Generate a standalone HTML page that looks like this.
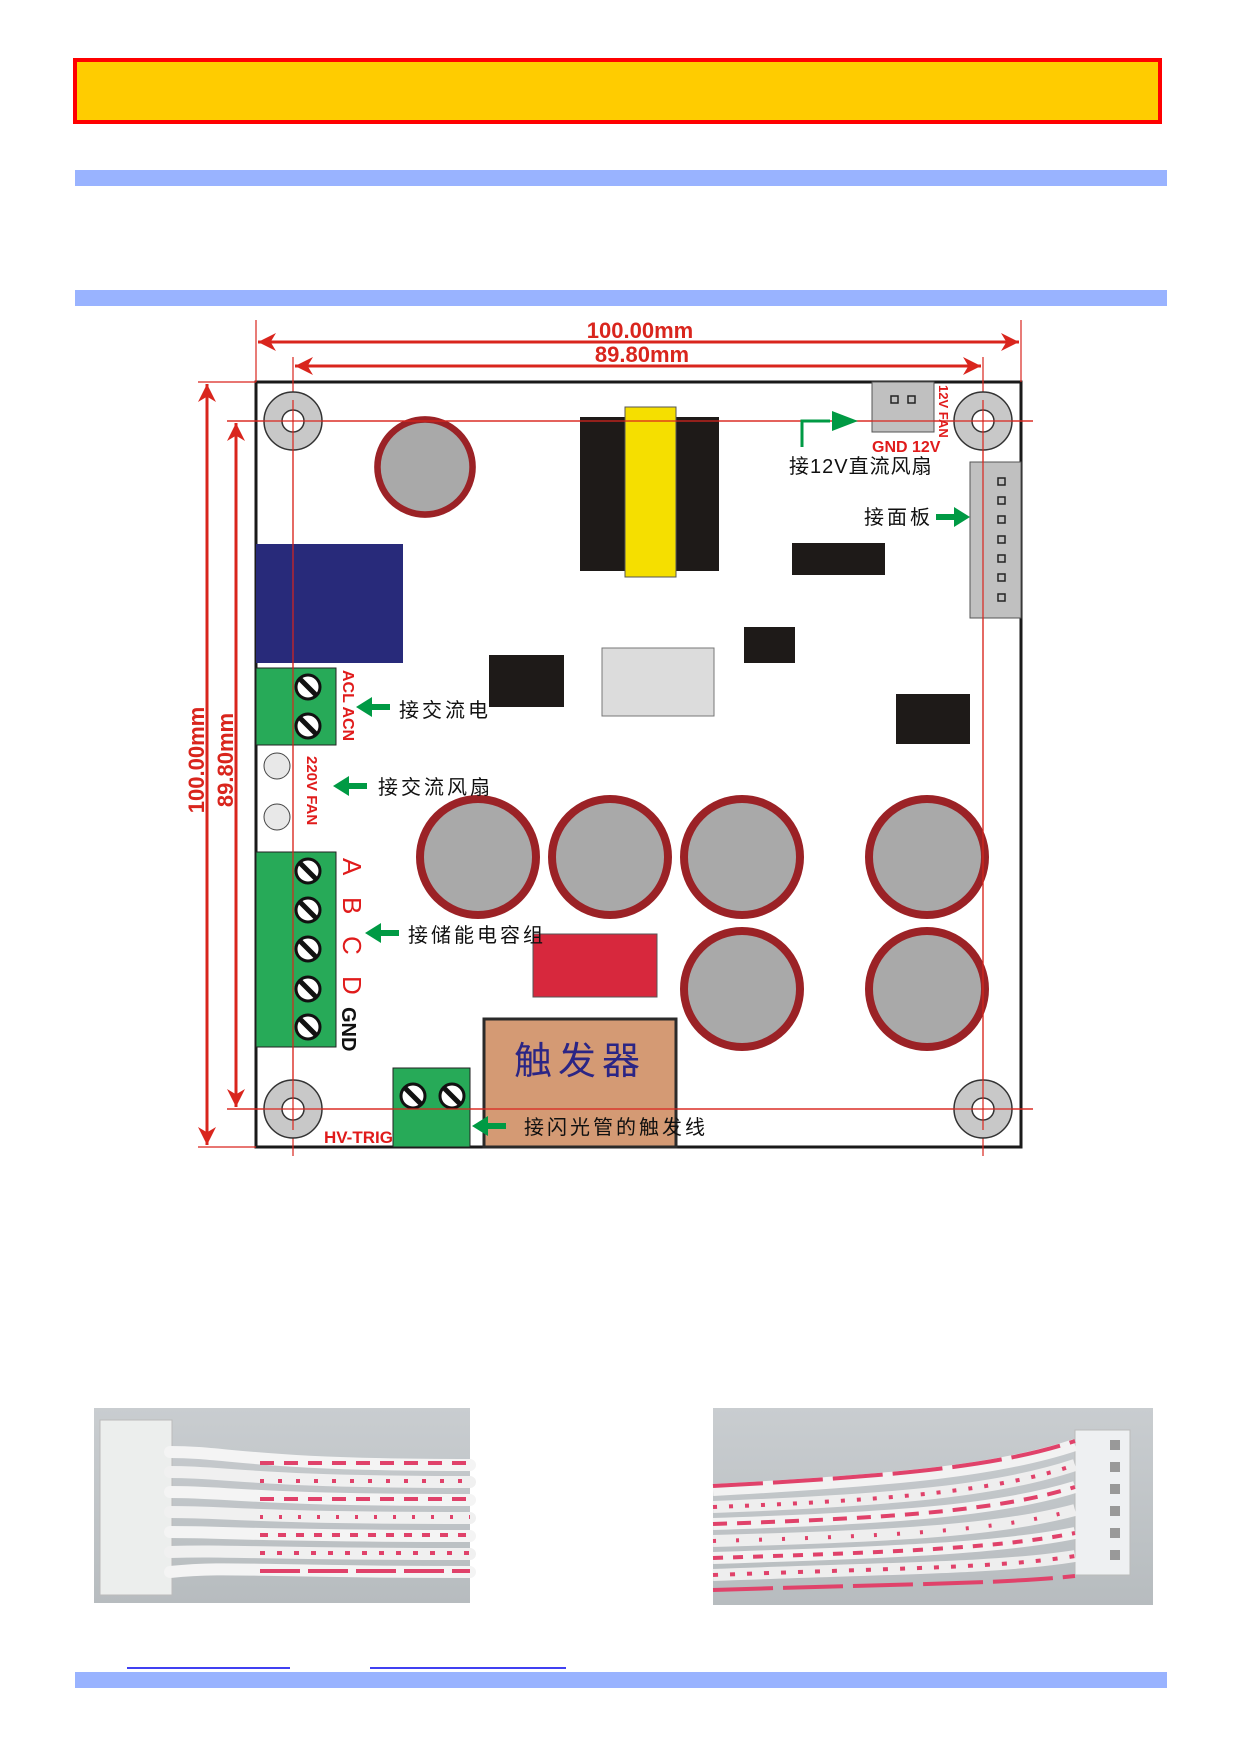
<!DOCTYPE html>
<html><head><meta charset="utf-8"><style>
html,body{margin:0;padding:0;background:#fff}
svg{display:block}
text{font-family:"Liberation Sans","Noto Sans CJK SC",sans-serif}
</style></head><body>
<svg width="1240" height="1754" viewBox="0 0 1240 1754" xmlns="http://www.w3.org/2000/svg">
<defs>
<marker id="ar" viewBox="0 0 10 10" refX="10" refY="5" markerWidth="6" markerHeight="6" orient="auto-start-reverse"><path d="M0,0 L10,5 L0,10 L3,5z" fill="#d9251d"/></marker>
<g id="hole"><circle r="29" fill="#c8c8c8" stroke="#333" stroke-width="1.5"/><circle r="11" fill="#fff" stroke="#333" stroke-width="1.5"/></g>
<g id="scr"><circle r="12" fill="#fff" stroke="#111" stroke-width="3"/><line x1="-8" y1="-8" x2="8" y2="8" stroke="#111" stroke-width="5"/></g>
<g id="cap"><circle r="58" fill="#a9a9a9" stroke="#9b2226" stroke-width="8"/></g>
<g id="ga"><path d="M0,0 L16,-10 L16,-3 L34,-3 L34,3 L16,3 L16,10z" fill="#009a44"/></g>
<linearGradient id="ph" x1="0" y1="0" x2="0" y2="1"><stop offset="0" stop-color="#c9cdd0"/><stop offset="1" stop-color="#b7bcbf"/></linearGradient>
</defs>
<!-- header bars -->
<rect x="75" y="60" width="1085" height="62" fill="#ffcc00" stroke="#ff0000" stroke-width="4"/>
<rect x="75" y="170" width="1092" height="16" fill="#99b3ff"/>
<rect x="75" y="290" width="1092" height="16" fill="#99b3ff"/>
<!-- board -->
<rect x="256" y="382" width="765" height="765" fill="#fff" stroke="#1a1a1a" stroke-width="3"/>
<!-- dims -->
<g stroke="#d9251d" stroke-width="1.2">
<line x1="256" y1="320" x2="256" y2="382"/><line x1="1021" y1="320" x2="1021" y2="382"/>
<line x1="198" y1="382" x2="256" y2="382"/><line x1="198" y1="1147" x2="256" y2="1147"/>
<line x1="227" y1="421" x2="1033" y2="421"/><line x1="227" y1="1109" x2="1033" y2="1109"/>
<line x1="293" y1="357" x2="293" y2="1156"/><line x1="983" y1="357" x2="983" y2="1156"/>
</g>
<g stroke="#d9251d" stroke-width="3" marker-start="url(#ar)" marker-end="url(#ar)">
<line x1="258" y1="342" x2="1019" y2="342"/>
<line x1="295" y1="366" x2="981" y2="366"/>
<line x1="207" y1="384" x2="207" y2="1145"/>
<line x1="236" y1="423" x2="236" y2="1107"/>
</g>
<g fill="#d9251d" font-weight="bold" font-size="22" text-anchor="middle">
<text x="640" y="338">100.00mm</text>
<text x="642" y="362">89.80mm</text>
<text transform="translate(204,760) rotate(-90)">100.00mm</text>
<text transform="translate(233,760) rotate(-90)">89.80mm</text>
</g>
<!-- components -->
<use href="#cap" x="425" y="467" transform="translate(425,467) scale(0.82) translate(-425,-467)"/>
<rect x="580" y="417" width="139" height="154" fill="#1e1a18"/>
<rect x="625" y="407" width="51" height="170" fill="#f5df00" stroke="#555" stroke-width="1"/>
<rect x="872" y="382" width="62" height="50" fill="#c0c0c0" stroke="#555"/>
<rect x="891" y="396" width="7" height="7" fill="none" stroke="#222" stroke-width="1.5"/><rect x="908" y="396" width="7" height="7" fill="none" stroke="#222" stroke-width="1.5"/>
<rect x="970" y="462" width="51" height="156" fill="#c0c0c0" stroke="#555"/>
<g fill="none" stroke="#222" stroke-width="1.5"><rect x="998" y="478" width="7" height="7"/><rect x="998" y="497" width="7" height="7"/><rect x="998" y="516" width="7" height="7"/><rect x="998" y="536" width="7" height="7"/><rect x="998" y="555" width="7" height="7"/><rect x="998" y="574" width="7" height="7"/><rect x="998" y="594" width="7" height="7"/></g>
<rect x="792" y="543" width="93" height="32" fill="#1e1a18"/>
<rect x="256" y="544" width="147" height="119" fill="#282a7a"/>
<rect x="489" y="655" width="75" height="52" fill="#1e1a18"/>
<rect x="602" y="648" width="112" height="68" fill="#dcdcdc" stroke="#777"/>
<rect x="744" y="627" width="51" height="36" fill="#1e1a18"/>
<rect x="896" y="694" width="74" height="50" fill="#1e1a18"/>
<rect x="256" y="668" width="80" height="77" fill="#27aa58" stroke="#222"/>
<use href="#scr" x="308" y="687"/><use href="#scr" x="308" y="726"/>
<circle cx="277" cy="766" r="13" fill="#e8e8e8" stroke="#444"/><circle cx="277" cy="817" r="13" fill="#e8e8e8" stroke="#444"/>
<rect x="256" y="852" width="80" height="195" fill="#27aa58" stroke="#222"/>
<use href="#scr" x="308" y="871"/><use href="#scr" x="308" y="910"/><use href="#scr" x="308" y="949"/><use href="#scr" x="308" y="989"/><use href="#scr" x="308" y="1027"/>
<use href="#cap" x="478" y="857"/><use href="#cap" x="610" y="857"/><use href="#cap" x="742" y="857"/><use href="#cap" x="927" y="857"/>
<use href="#cap" x="742" y="989"/><use href="#cap" x="927" y="989"/>
<rect x="533" y="934" width="124" height="63" fill="#d7283d" stroke="#555"/>
<rect x="484" y="1019" width="192" height="128" fill="#d49a74" stroke="#2a2a2a" stroke-width="3"/>
<text x="580" y="1074" font-size="38" fill="#2b2585" text-anchor="middle" letter-spacing="6">触发器</text>
<rect x="393" y="1068" width="77" height="79" fill="#27aa58" stroke="#222"/>
<use href="#scr" x="413" y="1096"/><use href="#scr" x="452" y="1096"/>
<use href="#hole" x="293" y="421"/><use href="#hole" x="983" y="421"/><use href="#hole" x="293" y="1109"/><use href="#hole" x="983" y="1109"/>
<!-- redraw crosshair lines over holes -->
<g stroke="#d9251d" stroke-width="1.2"><line x1="227" y1="421" x2="1033" y2="421"/><line x1="227" y1="1109" x2="1033" y2="1109"/><line x1="293" y1="400" x2="293" y2="1130"/><line x1="983" y1="400" x2="983" y2="1130"/></g>
<!-- labels -->
<g font-size="20" fill="#111" letter-spacing="3">
<text x="399" y="717">接交流电</text>
<text x="378" y="794">接交流风扇</text>
<text x="408" y="942">接储能电容组</text>
<text x="524" y="1134">接闪光管的触发线</text>
<text x="864" y="524">接面板</text>
<text x="789" y="473" letter-spacing="1">接12V直流风扇</text>
</g>
<g fill="#e01b1b" font-weight="bold">
<text x="872" y="452" font-size="16">GND 12V</text>
<text transform="translate(939,385) rotate(90)" font-size="13">12V FAN</text>
<text transform="translate(343,670) rotate(90)" font-size="16">ACL ACN</text>
<text transform="translate(307,756) rotate(90)" font-size="15">220V FAN</text>
<text x="324" y="1143" font-size="17">HV-TRIG</text>
</g>
<g font-size="26" fill="#e01b1b">
<text transform="translate(343,858) rotate(90)">A</text>
<text transform="translate(343,897) rotate(90)">B</text>
<text transform="translate(343,936) rotate(90)">C</text>
<text transform="translate(343,976) rotate(90)">D</text>
</g>
<text transform="translate(342,1007) rotate(90)" font-size="20" font-weight="bold" fill="#111">GND</text>
<!-- green arrows -->
<use href="#ga" x="356" y="707"/><use href="#ga" x="333" y="786"/><use href="#ga" x="365" y="933"/><use href="#ga" x="472" y="1126"/>
<g transform="translate(970,517) rotate(180)"><use href="#ga"/></g>
<path d="M802,447 L802,421 L830,421" fill="none" stroke="#009a44" stroke-width="3"/>
<path d="M858,421 L832,411 L832,431z" fill="#009a44"/>
<!-- photos -->
<rect x="94" y="1408" width="376" height="195" fill="url(#ph)"/>
<rect x="100" y="1420" width="72" height="175" fill="#eceeed" stroke="#bbb"/>
<g stroke-width="12" fill="none" stroke-linecap="round">
<path d="M170,1452 C230,1452 250,1465 470,1465" stroke="#f4f4f4"/>
<path d="M170,1472 C230,1472 250,1482 470,1482" stroke="#f0f0f0"/>
<path d="M170,1492 C230,1492 250,1500 470,1500" stroke="#f4f4f4"/>
<path d="M170,1512 C230,1512 250,1518 470,1518" stroke="#f0f0f0"/>
<path d="M170,1532 C230,1532 250,1536 470,1536" stroke="#f4f4f4"/>
<path d="M170,1552 C230,1550 250,1554 470,1554" stroke="#f0f0f0"/>
<path d="M170,1572 C230,1566 250,1572 470,1572" stroke="#f4f4f4"/>
</g>
<g stroke="#e0426a" stroke-width="4" stroke-dasharray="14 10" fill="none">
<path d="M260,1463 L470,1463"/><path d="M260,1481 L470,1481" stroke-dasharray="4 14"/><path d="M260,1499 L470,1499"/><path d="M260,1517 L470,1517" stroke-dasharray="3 16"/><path d="M260,1535 L470,1535" stroke-dasharray="8 10"/><path d="M260,1553 L470,1553" stroke-dasharray="5 12"/><path d="M260,1571 L470,1571" stroke-dasharray="40 8"/>
</g>
<rect x="713" y="1408" width="440" height="197" fill="url(#ph)"/>
<rect x="1075" y="1430" width="55" height="145" fill="#eef0f2" stroke="#bbb"/>
<g fill="#999"><rect x="1110" y="1440" width="10" height="10"/><rect x="1110" y="1462" width="10" height="10"/><rect x="1110" y="1484" width="10" height="10"/><rect x="1110" y="1506" width="10" height="10"/><rect x="1110" y="1528" width="10" height="10"/><rect x="1110" y="1550" width="10" height="10"/></g>
<g stroke-width="12" fill="none">
<path d="M713,1490 C900,1480 1000,1470 1075,1445" stroke="#f2f2f2"/>
<path d="M713,1507 C900,1500 1000,1490 1075,1465" stroke="#eee"/>
<path d="M713,1524 C900,1518 1000,1510 1075,1487" stroke="#f2f2f2"/>
<path d="M713,1541 C900,1536 1000,1530 1075,1510" stroke="#eee"/>
<path d="M713,1558 C900,1552 1000,1548 1075,1533" stroke="#f2f2f2"/>
<path d="M713,1575 C900,1568 1000,1568 1075,1556" stroke="#eee"/>
</g>
<g stroke="#e0426a" stroke-width="4" stroke-dasharray="14 10" fill="none">
<path d="M713,1486 C900,1476 1000,1466 1075,1441" stroke-dasharray="50 10"/>
<path d="M713,1507 C900,1500 1000,1490 1075,1465" stroke-dasharray="4 12"/>
<path d="M713,1524 C900,1518 1000,1510 1075,1487"/>
<path d="M713,1541 C900,1536 1000,1530 1075,1510" stroke-dasharray="3 20"/>
<path d="M713,1558 C900,1552 1000,1548 1075,1533" stroke-dasharray="10 10"/>
<path d="M713,1575 C900,1568 1000,1568 1075,1556" stroke-dasharray="5 12"/>
<path d="M713,1590 C900,1584 1000,1584 1075,1576" stroke-dasharray="60 10"/>
</g>
<!-- footer -->
<line x1="127" y1="1668" x2="290" y2="1668" stroke="#0000ee" stroke-width="1.5"/>
<line x1="370" y1="1668" x2="566" y2="1668" stroke="#0000ee" stroke-width="1.5"/>
<rect x="75" y="1672" width="1092" height="16" fill="#99b3ff"/>
</svg>
</body></html>
